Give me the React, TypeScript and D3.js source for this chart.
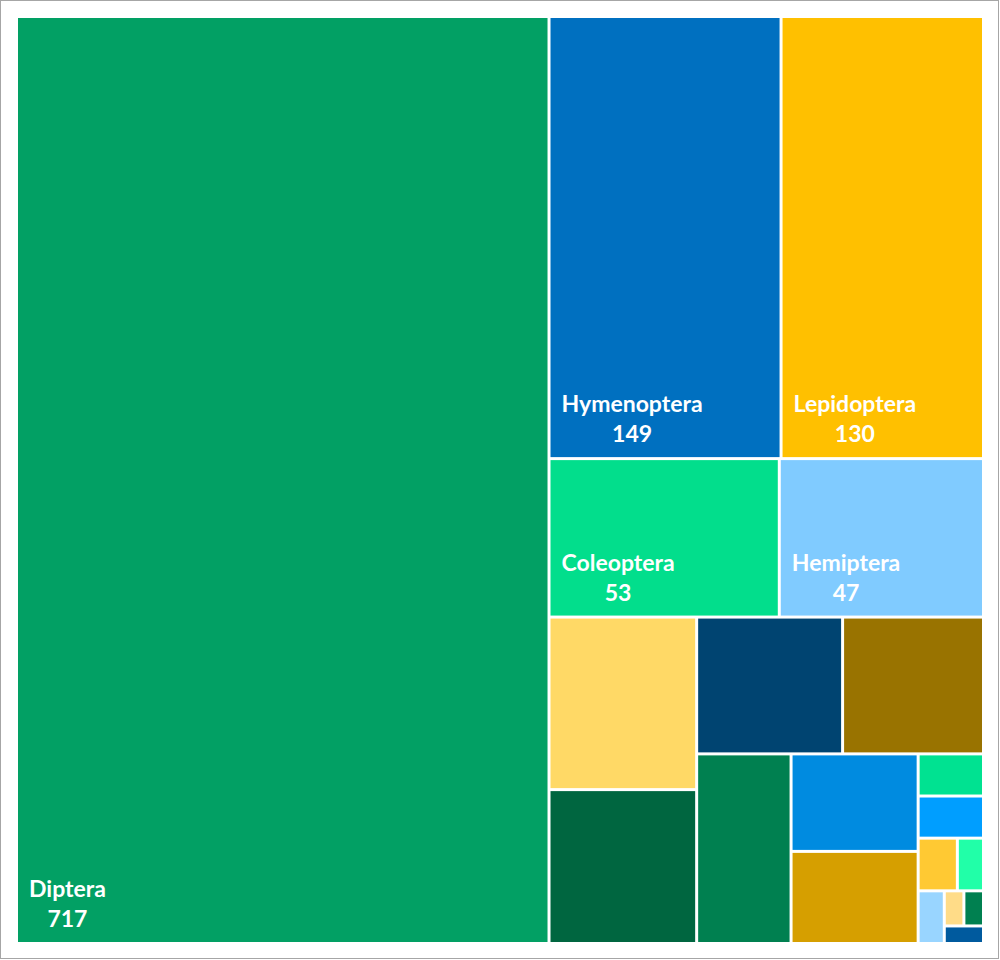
import React, { useEffect, useRef } from "react";
import * as d3 from "d3";

const categories = [
  "Diptera", "Hymenoptera", "Lepidoptera", "Coleoptera", "Hemiptera",
  "Orthoptera", "Trichoptera", "Odonata", "Ephemeroptera", "Plecoptera",
  "Neuroptera", "Thysanoptera", "Psocoptera", "Blattodea", "Mantodea",
  "Dermaptera", "Megaloptera", "Mecoptera", "Siphonaptera", "Phasmatodea",
];
const values = [717, 149, 130, 53, 47, 37, 33, 29, 28, 26, 18, 17, 4, 4, 3, 2, 2, 1, 1, 1];
const colors = [
  "#02A064", "#0070C0", "#FFC000", "#02DE8C", "#80CBFF",
  "#FFD966", "#006640", "#004471", "#997300", "#008050",
  "#008BE0", "#D69F00", "#00E291", "#009EFF", "#FFC933",
  "#21FFA8", "#99D5FF", "#FFDC88", "#008050", "#005A9E",
];
const labeled = ["Diptera", "Hymenoptera", "Lepidoptera", "Coleoptera", "Hemiptera"];

export default function App() {
  const ref = useRef<SVGSVGElement | null>(null);

  useEffect(() => {
    document.body.style.margin = "0";
    const svg = d3.select(ref.current);
    svg.selectAll("*").remove();

    const W = 1000, H = 960;
    const left = 18, top = 18, right = 982, bottom = 942;
    const gap = 3;
    const stretch = 1.1; // layout space aspect (wider), then mapped back to pixels

    svg.append("rect")
      .attr("x", 0.5).attr("y", 0.5)
      .attr("width", W - 2).attr("height", H - 2)
      .attr("fill", "#ffffff").attr("stroke", "#a6a6a6").attr("stroke-width", 1);

    const data = categories.map((name, i) => ({ name, value: values[i], color: colors[i] }));
    const root = d3.hierarchy<any>({ name: "root", children: data })
      .sum((d: any) => (d.children ? 0 : d.value))
      .sort((a, b) => (b.value ?? 0) - (a.value ?? 0));

    const lw = (right - left + gap) * stretch;
    const lh = bottom - top + gap;
    d3.treemap<any>()
      .tile(d3.treemapSquarify.ratio(1))
      .size([lw, lh])
      .padding(0)(root);

    const x = d3.scaleLinear().domain([0, lw]).range([left - gap / 2, right + gap / 2]);
    const y = d3.scaleLinear().domain([0, lh]).range([top - gap / 2, bottom + gap / 2]);

    const leaves = root.leaves() as any[];
    const cells = leaves.map((d) => ({
      d,
      x0: x(d.x0) + gap / 2,
      x1: x(d.x1) - gap / 2,
      y0: y(d.y0) + gap / 2,
      y1: y(d.y1) - gap / 2,
    }));

    const g = svg.append("g");
    g.selectAll("rect.cell")
      .data(cells)
      .join("rect")
      .attr("class", "cell")
      .attr("x", (c) => c.x0)
      .attr("y", (c) => c.y0)
      .attr("width", (c) => Math.max(0, c.x1 - c.x0))
      .attr("height", (c) => Math.max(0, c.y1 - c.y0))
      .attr("fill", (c) => c.d.data.color);

    const font = "Lato, 'Open Sans', sans-serif";
    cells.filter((c) => labeled.includes(c.d.data.name)).forEach((c) => {
      const lx = c.x0 + 11;
      const t1 = g.append("text")
        .attr("x", lx)
        .attr("y", c.y1 - 45)
        .attr("fill", "#ffffff")
        .attr("font-family", font)
        .attr("font-weight", 700)
        .attr("font-size", 23)
        .text(c.d.data.name);
      const w = (t1.node() as SVGTextElement).getComputedTextLength();
      g.append("text")
        .attr("x", lx + w / 2)
        .attr("y", c.y1 - 15)
        .attr("text-anchor", "middle")
        .attr("fill", "#ffffff")
        .attr("font-family", font)
        .attr("font-weight", 700)
        .attr("font-size", 23)
        .text(d3.format("d")(c.d.data.value));
    });
  }, []);

  return (
    <div style={{ position: "absolute", left: 0, top: 0 }}>
      <svg ref={ref} width={1000} height={960} style={{ display: "block" }} />
    </div>
  );
}
